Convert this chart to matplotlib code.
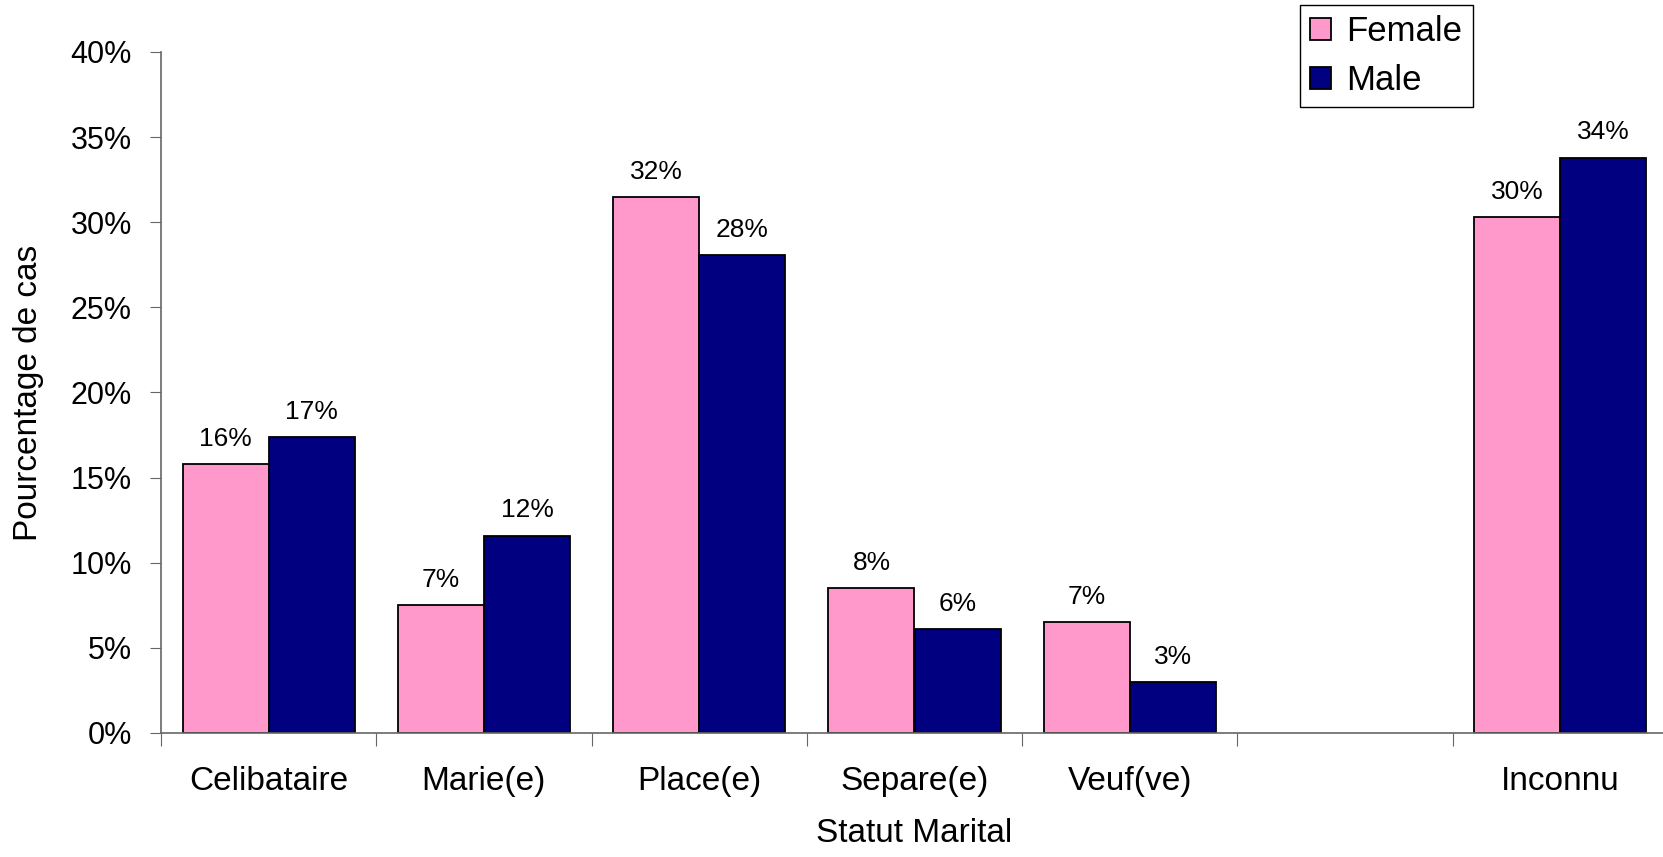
import numpy as np
import matplotlib.pyplot as plt
from matplotlib.ticker import FixedLocator

plt.rcParams['font.family'] = ['Liberation Sans', 'DejaVu Sans']

# data (percent of cases)
categories = ['Celibataire', 'Marie(e)', 'Place(e)', 'Separe(e)', 'Veuf(ve)', '', 'Inconnu']
female = [15.8, 7.5, 31.5, 8.5, 6.5, np.nan, 30.3]
male = [17.4, 11.6, 28.1, 6.1, 3.0, np.nan, 33.8]
female_labels = ['16%', '7%', '32%', '8%', '7%', '', '30%']
male_labels = ['17%', '12%', '28%', '6%', '3%', '', '34%']
yticks = [0, 5, 10, 15, 20, 25, 30, 35, 40]

fig = plt.figure(figsize=(16.63, 8.57), dpi=100)
ax = fig.add_axes([161 / 1663, 124 / 857, 1507 / 1663, 681 / 857])

x = np.arange(len(categories))
w = 0.4
b1 = ax.bar(x - w / 2, female, w, color='#FF99CC', edgecolor='black', linewidth=1.3, label='Female')
b2 = ax.bar(x + w / 2, male, w, color='#000080', edgecolor='black', linewidth=1.3, label='Male')

# value labels above bars
for xi, v, lab in zip(x - w / 2, female, female_labels):
    if lab:
        ax.annotate(lab, (xi, v), xytext=(0, 13), textcoords='offset points',
                    ha='center', va='baseline', fontsize=19)
for xi, v, lab in zip(x + w / 2, male, male_labels):
    if lab:
        ax.annotate(lab, (xi, v), xytext=(0, 13), textcoords='offset points',
                    ha='center', va='baseline', fontsize=19)

ax.set_xlim(-0.5, len(categories) - 0.5)
ax.set_ylim(0, 40)
ax.set_yticks(yticks)
ax.set_yticklabels([f'{t}%' for t in yticks], fontsize=22)

# ticks on category boundaries, labels on centers
ax.xaxis.set_major_locator(FixedLocator(np.arange(len(categories) + 1) - 0.5))
ax.set_xticklabels([])
ax.xaxis.set_minor_locator(FixedLocator(x))
ax.set_xticklabels(categories, minor=True, fontsize=24)
ax.tick_params(axis='x', which='major', length=9, direction='out', color='#666666')
ax.tick_params(axis='x', which='minor', length=0, pad=24)
ax.tick_params(axis='y', length=8, color='#666666', pad=13)

for s in ['top', 'right']:
    ax.spines[s].set_visible(False)
for s in ['left', 'bottom']:
    ax.spines[s].set_color('#666666')
    ax.spines[s].set_linewidth(1.2)

ax.set_ylabel('Pourcentage de cas', fontsize=24)
ax.yaxis.set_label_coords(-0.0776, 0.5)
ax.set_xlabel('Statut Marital', fontsize=24, labelpad=15)

leg = fig.legend(handles=[b1, b2], loc='upper left', bbox_to_anchor=(1300 / 1663, 1 - 5 / 857),
                 fontsize=25, fancybox=False, edgecolor='black', framealpha=1,
                 handlelength=0.6, handleheight=0.6, handletextpad=0.45,
                 borderpad=0.29, borderaxespad=0, labelspacing=0.47)
leg.get_frame().set_linewidth(1.0)

fig.savefig('out.png', dpi=100)
